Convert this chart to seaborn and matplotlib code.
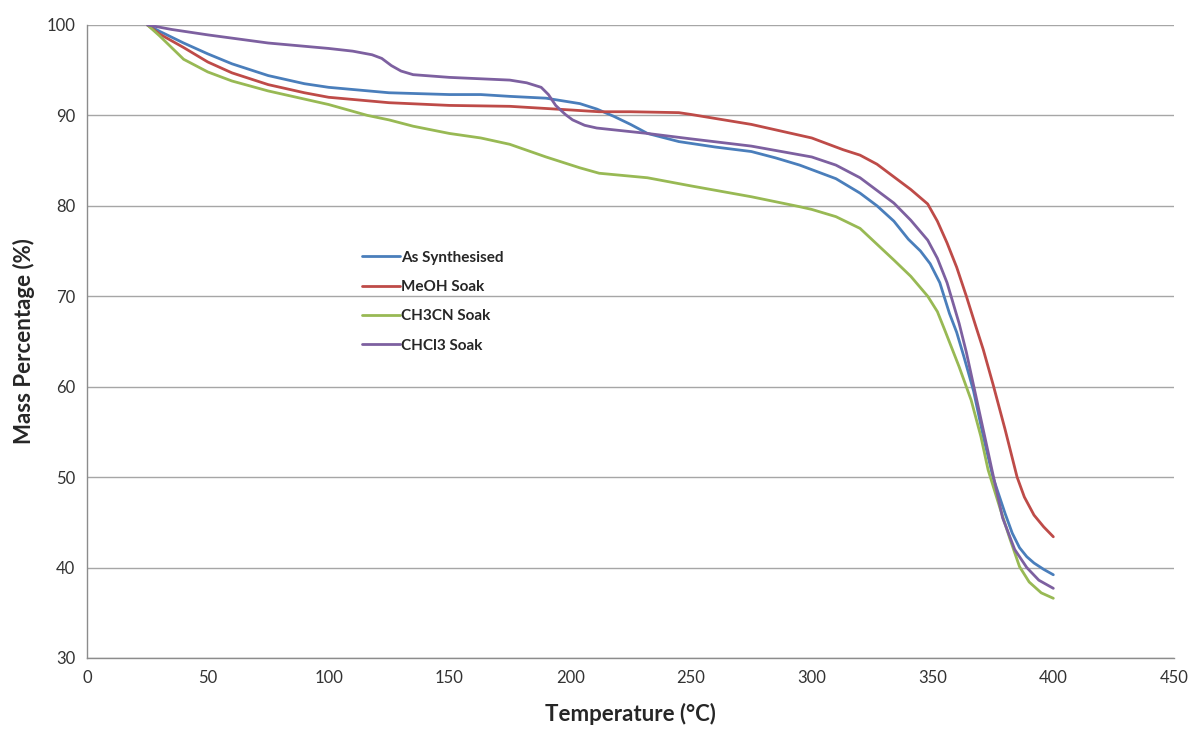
import matplotlib
matplotlib.use("Agg")
import matplotlib.pyplot as plt
import seaborn as sns
import pandas as pd

# данные
t_as = [25, 30, 40, 50, 60, 75, 90, 100, 125, 150, 163, 175, 190, 204, 211, 218, 225, 232, 245, 260, 275, 285,
        295, 300, 310, 320, 327, 334, 340, 345, 349, 353, 357, 360, 363, 367, 371, 375, 380, 383, 386, 389, 392, 396, 400]
y_as = [100, 99.3, 98.0, 96.8, 95.7, 94.4, 93.5, 93.1, 92.5, 92.3, 92.3, 92.1, 91.9, 91.3, 90.7, 89.9, 89.0, 88.0, 87.1, 86.5, 86.0, 85.3,
        84.5, 84.0, 83.0, 81.4, 80.0, 78.3, 76.3, 75.0, 73.6, 71.5, 68.1, 66.0, 63.3, 59.5, 54.5, 50.0, 46.0, 43.8, 42.2, 41.2, 40.5, 39.8, 39.2]

t_meoh = [25, 30, 40, 50, 60, 75, 90, 100, 125, 150, 175, 200, 212, 225, 245, 250, 275, 300, 313, 320,
          327, 334, 341, 348, 352, 356, 360, 364, 368, 371, 375, 380, 385, 388, 392, 396, 400]
y_meoh = [100, 99.0, 97.5, 95.9, 94.7, 93.4, 92.5, 92.0, 91.4, 91.1, 91.0, 90.6, 90.4, 90.4, 90.3, 90.1, 89.0, 87.5, 86.2, 85.6,
          84.6, 83.2, 81.8, 80.2, 78.3, 75.9, 73.2, 70.0, 66.6, 64.1, 60.3, 55.3, 50.0, 47.8, 45.8, 44.5, 43.4]

t_ch3cn = [25, 30, 35, 40, 50, 60, 75, 90, 100, 116, 125, 135, 150, 163, 175, 190, 197, 204, 212, 232, 250,
           275, 295, 300, 310, 320, 328, 334, 341, 348, 352, 355, 361, 366, 370, 373, 378, 382, 386, 390, 395, 400]
y_ch3cn = [100, 98.8, 97.5, 96.2, 94.8, 93.8, 92.7, 91.8, 91.2, 90.0, 89.5, 88.8, 88.0, 87.5, 86.8, 85.4, 84.8, 84.2, 83.6, 83.1, 82.2,
           81.0, 79.9, 79.6, 78.8, 77.5, 75.5, 74.0, 72.2, 70.0, 68.3, 66.3, 62.2, 58.5, 54.5, 50.8, 46.5, 43.2, 40.1, 38.4, 37.2, 36.6]

t_chcl3 = [25, 35, 50, 75, 100, 110, 118, 122, 126, 130, 135, 150, 175, 182, 188, 191, 194, 198, 201, 206, 211,
           232, 250, 275, 300, 310, 320, 327, 334, 341, 348, 352, 356, 361, 364, 368, 372, 375, 379, 384, 389, 394, 400]
y_chcl3 = [100, 99.5, 98.9, 98.0, 97.4, 97.1, 96.7, 96.3, 95.5, 94.9, 94.5, 94.2, 93.9, 93.6, 93.1, 92.3, 91.1, 90.1, 89.5, 88.9, 88.6,
           88.0, 87.4, 86.6, 85.4, 84.5, 83.1, 81.7, 80.3, 78.4, 76.2, 74.2, 71.5, 67.0, 63.8, 58.9, 54.0, 50.3, 45.5, 42.0, 40.0, 38.6, 37.7]

names = ["As Synthesised", "MeOH Soak", "CH3CN Soak", "CHCl3 Soak"]
colors = ["#4A7EBB", "#BE4B48", "#98B954", "#7D60A0"]

frames = []
for name, t, y in zip(names, [t_as, t_meoh, t_ch3cn, t_chcl3], [y_as, y_meoh, y_ch3cn, y_chcl3]):
    frames.append(pd.DataFrame({"Temperature": t, "Mass": y, "Sample": name}))
df = pd.concat(frames, ignore_index=True)

sns.set_style("white")
plt.rcParams["font.family"] = ["Lato", "DejaVu Sans"]

fig = plt.figure(figsize=(11.92, 7.31), dpi=100)
ax = fig.add_axes([0.073, 0.0999, 0.912, 0.866])

sns.lineplot(data=df, x="Temperature", y="Mass", hue="Sample", palette=dict(zip(names, colors)),
             hue_order=names, errorbar=None, linewidth=2.0, ax=ax)

ax.set_xlim(0, 450)
ax.set_ylim(30, 100)
ax.set_xticks(range(0, 451, 50))
ax.set_yticks(range(30, 101, 10))
ax.yaxis.grid(True, color="#a6a6a6", linewidth=1.0)
ax.xaxis.grid(False)
for s in ["top", "right"]:
    ax.spines[s].set_visible(False)
for s in ["left", "bottom"]:
    ax.spines[s].set_color("#8c8c8c")
    ax.spines[s].set_linewidth(1.0)
ax.tick_params(axis="both", direction="out", length=5, color="#8c8c8c", labelsize=12, labelcolor="#333333")

ax.set_xlabel("Temperature (°C)", fontsize=16, fontweight="bold", labelpad=12)
ax.set_ylabel("Mass Percentage (%)", fontsize=16, fontweight="bold", labelpad=8)

leg = ax.legend(loc="upper left", bbox_to_anchor=(0.24, 0.665), frameon=False,
                prop={"weight": "bold", "size": 11}, handlelength=2.5, handletextpad=0.1,
                labelspacing=1.0)
for h in leg.get_lines():
    h.set_linewidth(2.0)

fig.savefig("out.png", dpi=100)
